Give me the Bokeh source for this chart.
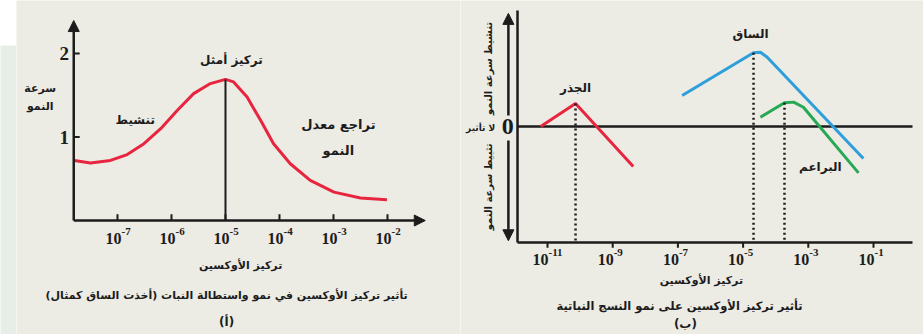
import math
from bokeh.plotting import figure
from bokeh.layouts import row
from bokeh.models import Range1d, Label, Arrow, NormalHead, ColumnDataSource
from bokeh.core.properties import value
from bokeh.embed import file_html
from bokeh.resources import INLINE

# ---------------- data ----------------
# Panel (a): growth rate vs auxin concentration (exponent of 10)
a_exp = [-7.80, -7.50, -7.13, -6.82, -6.51, -6.20, -5.89, -5.59, -5.28, -5.00,
         -4.85, -4.60, -4.35, -4.11, -3.80, -3.43, -2.99, -2.50, -2.01]
a_growth = [0.72, 0.69, 0.72, 0.79, 0.92, 1.10, 1.32, 1.52, 1.64, 1.69,
            1.66, 1.48, 1.20, 0.92, 0.68, 0.48, 0.34, 0.27, 0.25]
a_tick_exp = [-7, -6, -5, -4, -3, -2]
a_tick_base = ["10", "10", "10", "10", "10", "10"]
a_tick_sup = ["-7", "-6", "-5", "-4", "-3", "-2"]
a_ytick = [1, 2]
a_ytick_labels = ["1", "2"]

# Panel (b): effect on tissues (exponent of 10, effect)
root_exp = [-11.21, -10.14, -8.37]
root_eff = [0.0, 0.198, -0.345]
stem_exp = [-6.87, -4.68, -4.47, -4.26, -1.31]
stem_eff = [0.267, 0.635, 0.640, 0.597, -0.276]
bud_exp = [-4.47, -3.73, -3.45, -3.15, -1.46]
bud_eff = [0.08, 0.205, 0.21, 0.166, -0.40]
b_tick_exp = [-11, -9, -7, -5, -3, -1]
b_tick_base = ["10", "10", "10", "10", "10", "10"]
b_tick_sup = ["-11", "-9", "-7", "-5", "-3", "-1"]

BG = "#ECEBE4"
AR = "DejaVu Sans"
SERIF = "Liberation Serif"
INK = "#1c1c1c"


def p10(v):
    return [10 ** e for e in v]


def lab(p, x, y, text, size="12px", font=AR, style="bold", angle=0.0, align="center"):
    p.add_layout(Label(x=x, y=y, text=text, text_font=font, text_font_style=style,
                       text_font_size=size, text_align=align, text_baseline="middle",
                       text_color=INK, angle=angle))


def head():
    return NormalHead(size=11, fill_color=INK, line_color=INK)


def panel(width, xr, yr):
    p = figure(width=width, height=334, toolbar_location=None, output_backend="svg",
               x_axis_type="log", x_range=Range1d(10 ** xr[0], 10 ** xr[1]),
               y_range=Range1d(*yr), x_axis_location=None, y_axis_location=None,
               min_border_left=0, min_border_right=0, min_border_top=0, min_border_bottom=0,
               background_fill_color=BG, border_fill_color=BG, outline_line_color=None,
               frame_align=False)
    p.grid.visible = False
    return p


def power_labels(p, xs, y, bases, sups, dx, base_size="16px", sup_size="11px", rise=-7):
    p.text(x=xs, y=[y] * len(xs), text=bases, text_font=value(SERIF), text_font_style="bold",
           text_font_size=base_size, text_align="right", text_baseline="middle",
           text_color=INK, x_offset=dx)
    p.text(x=xs, y=[y] * len(xs), text=sups, text_font=value(SERIF), text_font_style="bold",
           text_font_size=sup_size, text_align="left", text_baseline="middle",
           text_color=INK, x_offset=dx, y_offset=rise)


# ---------------- left strip ----------------
strip = figure(width=16, height=334, toolbar_location=None, output_backend="svg",
               x_axis_type=None, y_axis_type=None, min_border_left=0, min_border_right=0,
               min_border_top=45, min_border_bottom=0, border_fill_color="white",
               background_fill_color="#E7EEE8", outline_line_color=None, frame_align=False)
strip.grid.visible = False

# ---------------- panel (a) ----------------
pa = panel(444, (-8.870, -0.648), (-1.365, 2.635))
AX0, AX1, AY1 = 10 ** -7.81, 10 ** -1.30, 2.395
pa.add_layout(Arrow(end=head(), x_start=AX0, y_start=0, x_end=AX1, y_end=0,
                    line_width=2.5, line_color=INK))
pa.add_layout(Arrow(end=head(), x_start=AX0, y_start=0, x_end=AX0, y_end=AY1,
                    line_width=2.5, line_color=INK))
# ticks (pointing inward)
xt = p10(a_tick_exp)
pa.segment(x0=xt, y0=[0] * len(xt), x1=xt, y1=[0.075] * len(xt), line_color=INK, line_width=2)
pa.segment(x0=[AX0] * len(a_ytick), y0=a_ytick, x1=[10 ** -7.70] * len(a_ytick), y1=a_ytick,
           line_color=INK, line_width=2)
power_labels(pa, xt, -0.21, a_tick_base, a_tick_sup, dx=4)
pa.text(x=[10 ** -7.90] * len(a_ytick), y=a_ytick, text=a_ytick_labels, text_font=value(SERIF),
        text_font_style="bold", text_font_size="19px", text_align="right",
        text_baseline="middle", text_color=INK)

src_a = ColumnDataSource(dict(x=p10(a_exp), y=a_growth))
pa.line("x", "y", source=src_a, line_color="#E8253F", line_width=3)
ipk = a_growth.index(max(a_growth))
pa.segment(x0=[10 ** a_exp[ipk]], y0=[0], x1=[10 ** a_exp[ipk]], y1=[a_growth[ipk]],
           line_color=INK, line_width=2)

lab(pa, 10 ** -4.89, 1.92, "تركيز أمثل")
lab(pa, 10 ** -6.67, 1.20, "تنشيط")
lab(pa, 10 ** -2.91, 1.15, "تراجع معدل", size="13px")
lab(pa, 10 ** -2.91, 0.84, "النمو", size="13px")
lab(pa, 10 ** -8.43, 1.58, "سرعة", size="11px")
lab(pa, 10 ** -8.43, 1.36, "النمو", size="11px")
lab(pa, 10 ** -4.72, -0.54, "تركيز الأوكسين", size="11px")
lab(pa, 10 ** -4.98, -0.90, "تأثير تركيز الأوكسين في نمو واستطالة النبات (أخذت الساق كمثال)", size="11px")
lab(pa, 10 ** -4.98, -1.22, "(أ)", size="12px")

# ---------------- panel (b) ----------------
pb = panel(463, (-13.669, 0.534), (-1.793, 1.086))
BX0, BX1 = 10 ** -11.92, 10 ** 0.196
pb.segment(x0=[BX0, BX0, BX0], y0=[-1, -1, 0], x1=[BX0, BX1, BX1], y1=[1, -1, 0],
           line_color=INK, line_width=2.5)
xtb = p10(b_tick_exp)
pb.segment(x0=xtb, y0=[-1] * len(xtb), x1=xtb, y1=[-1.045] * len(xtb), line_color=INK, line_width=2)
power_labels(pb, xtb, -1.148, b_tick_base, b_tick_sup, dx=1)

xarr = 10 ** -12.2
pb.add_layout(Arrow(end=head(), x_start=xarr, y_start=0.095, x_end=xarr, y_end=0.975,
                    line_width=2.5, line_color=INK))
pb.add_layout(Arrow(end=head(), x_start=xarr, y_start=-0.12, x_end=xarr, y_end=-0.985,
                    line_width=2.5, line_color=INK))

series = [(root_exp, root_eff, "#E8253F"), (stem_exp, stem_eff, "#2E9FDB"),
          (bud_exp, bud_eff, "#27A855")]
for ex, ef, col in series:
    pb.line(p10(ex), ef, line_color=col, line_width=3)
    pb.segment(x0=[10 ** ex[1]], y0=[ef[1]], x1=[10 ** ex[1]], y1=[-1],
               line_color=INK, line_width=2.5, line_dash="2 3")

lab(pb, 10 ** -10.14, 0.336, "الجذر")
lab(pb, 10 ** -4.77, 0.80, "الساق")
lab(pb, 10 ** -2.63, -0.35, "البراعم")
lab(pb, 10 ** -12.22, 0.0, "0", size="24px", font=SERIF)
lab(pb, 10 ** -13.05, -0.01, "لا تأثير", size="9px")
lab(pb, 10 ** -12.8, 0.50, "تنشيط سرعة النمو", size="10px", angle=math.pi / 2)
lab(pb, 10 ** -12.8, -0.52, "تثبيط سرعة النمو", size="10px", angle=math.pi / 2)
lab(pb, 10 ** -6.28, -1.33, "تركيز الأوكسين", size="11px")
lab(pb, 10 ** -6.95, -1.55, "تأثير تركيز الأوكسين على نمو النسج النباتية", size="11.5px")
lab(pb, 10 ** -6.77, -1.70, "(ب)", size="12px")

layout = row(strip, pa, pb, spacing=0)
open("out.html", "w").write(file_html(layout, INLINE))
